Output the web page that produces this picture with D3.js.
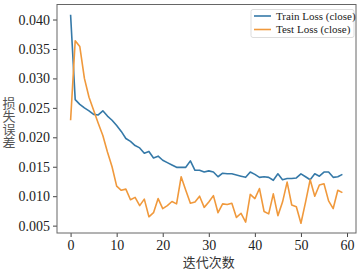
<!DOCTYPE html>
<html>
<head>
<meta charset="utf-8">
<script src="https://cdn.jsdelivr.net/npm/d3@7"></script>
<style>
  body { margin: 0; background: #fff; }
  svg { display: block; }
</style>
</head>
<body>
<svg id="chart"></svg>
<script>
// データ
const epochs = d3.range(0, 60);
const trainLoss = [
  0.0408, 0.0264, 0.0256, 0.0250, 0.0245, 0.0239, 0.0238, 0.0245, 0.0236, 0.0229,
  0.0220, 0.0210, 0.0198, 0.0193, 0.0186, 0.0182, 0.0173, 0.0176, 0.0165, 0.0168,
  0.0161, 0.0157, 0.0153, 0.0149, 0.0149, 0.0149, 0.0160, 0.0144, 0.0144, 0.0141,
  0.0143, 0.0141, 0.0133, 0.0139, 0.0138, 0.0138, 0.0136, 0.0134, 0.0132, 0.0141,
  0.0137, 0.0132, 0.0133, 0.0132, 0.0127, 0.0138, 0.0128, 0.0130, 0.0130, 0.0131,
  0.0138, 0.0133, 0.0128, 0.0138, 0.0134, 0.0141, 0.0141, 0.0132, 0.0133, 0.0137
];
const testLoss = [
  0.0229, 0.0364, 0.0354, 0.0300, 0.0268, 0.0246, 0.0224, 0.0203, 0.0175, 0.0150,
  0.0117, 0.0110, 0.0112, 0.0094, 0.0098, 0.0084, 0.0095, 0.0065, 0.0072, 0.0096,
  0.0079, 0.0084, 0.0091, 0.0087, 0.0133, 0.0110, 0.0088, 0.0090, 0.0100, 0.0081,
  0.0090, 0.0101, 0.0072, 0.0087, 0.0086, 0.0088, 0.0064, 0.0071, 0.0056, 0.0103,
  0.0096, 0.0113, 0.0074, 0.0070, 0.0104, 0.0067, 0.0090, 0.0124, 0.0085, 0.0082,
  0.0054, 0.0090, 0.0128, 0.0100, 0.0119, 0.0121, 0.0092, 0.0079, 0.0110, 0.0106
];
const xTicks = [0, 10, 20, 30, 40, 50, 60];
const yTicks = [0.005, 0.010, 0.015, 0.020, 0.025, 0.030, 0.035, 0.040];
const seriesNames = ["Train Loss (close)", "Test Loss (close)"];
const colors = ["#3579a8", "#f0993c"];

const width = 362;
const height = 273;
const margin = {top: 4.5, right: 6, bottom: 40, left: 57};

const svg = d3.select('#chart')
    .attr('width', width)
    .attr('height', height);
const chart = svg.append('g')
    .attr('transform', `translate(${margin.left}, ${margin.top})`);

const inner_width = width - margin.left - margin.right;
const inner_height = height - margin.top - margin.bottom;

const xscale = d3.scaleLinear()
    .domain([-2.95, 61.95])
    .range([0, inner_width]);
const yscale = d3.scaleLinear()
    .domain([0.00375, 0.04255])
    .range([inner_height, 0]);

// 軸
const xaxis = d3.axisBottom(xscale)
    .tickValues(xTicks)
    .tickSize(4)
    .tickSizeOuter(0)
    .tickPadding(3)
    .tickFormat(d3.format('d'));
const yaxis = d3.axisLeft(yscale)
    .tickValues(yTicks)
    .tickSize(4)
    .tickSizeOuter(0)
    .tickPadding(3)
    .tickFormat(d3.format('.3f'));

const xg = chart.append('g')
    .attr('transform', `translate(0, ${inner_height})`)
    .call(xaxis);
const yg = chart.append('g')
    .call(yaxis);
[xg, yg].forEach(g => {
  g.select('.domain').remove();
  g.selectAll('line').attr('stroke', '#444');
  g.selectAll('text')
      .attr('fill', '#222')
      .attr('font-family', '"Liberation Serif", "DejaVu Serif", serif')
      .attr('font-size', '14px');
});

// 枠
chart.append('rect')
    .attr('x', 0).attr('y', 0)
    .attr('width', inner_width).attr('height', inner_height)
    .attr('fill', 'none')
    .attr('stroke', '#666')
    .attr('stroke-width', 1);

// 線
const line = d3.line()
    .x((d, i) => xscale(epochs[i]))
    .y(d => yscale(d));
[trainLoss, testLoss].forEach((s, k) => {
  chart.append('path')
      .datum(s)
      .attr('fill', 'none')
      .attr('stroke', colors[k])
      .attr('stroke-width', 1.6)
      .attr('stroke-linejoin', 'round')
      .attr('d', line);
});

// 凡例
const legend = chart.append('g')
    .attr('transform', `translate(${inner_width - 105}, 5)`);
legend.append('rect')
    .attr('width', 103).attr('height', 28)
    .attr('rx', 2)
    .attr('fill', '#fff')
    .attr('fill-opacity', 0.8)
    .attr('stroke', '#ddd');
seriesNames.forEach((name, k) => {
  const y = 6.5 + k * 13.5;
  legend.append('line')
      .attr('x1', 3).attr('x2', 20)
      .attr('y1', y).attr('y2', y)
      .attr('stroke', colors[k])
      .attr('stroke-width', 1.6);
  legend.append('text')
      .attr('x', 25).attr('y', y + 3.8)
      .attr('font-family', '"Liberation Serif", "DejaVu Serif", serif')
      .attr('font-size', '11px')
      .attr('fill', '#222')
      .text(name);
});

// 軸ラベル
svg.append('text')
    .attr('x', margin.left + xscale(30))
    .attr('y', 266.5)
    .attr('text-anchor', 'middle')
    .attr('font-family', '"Noto Sans CJK SC", sans-serif')
    .attr('font-size', '13px')
    .attr('fill', '#333')
    .text('迭代次数');

// 縦書きラベル
svg.append('text')
    .attr('x', 9)
    .attr('y', 123)
    .attr('text-anchor', 'middle')
    .style('writing-mode', 'vertical-rl')
    .style('text-orientation', 'upright')
    .attr('font-family', '"Noto Sans CJK SC", sans-serif')
    .attr('font-size', '13px')
    .attr('fill', '#555')
    .text('损失误差');
</script>
</body>
</html>
